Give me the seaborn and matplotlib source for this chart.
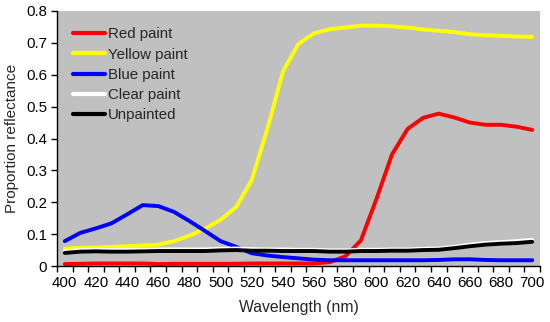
import numpy as np
import pandas as pd
import matplotlib
matplotlib.use("Agg")
import matplotlib.pyplot as plt
import seaborn as sns
from matplotlib.ticker import MultipleLocator, FixedLocator

wavelength = list(range(400, 701, 10))

red_paint = [0.006, 0.007, 0.008, 0.008, 0.008, 0.008, 0.006, 0.007, 0.007, 0.007,
             0.007, 0.007, 0.008, 0.008, 0.008, 0.008, 0.008, 0.012, 0.03, 0.08,
             0.21, 0.35, 0.43, 0.465, 0.478, 0.466, 0.45, 0.443, 0.443, 0.437, 0.427]
yellow_paint = [0.054, 0.057, 0.058, 0.06, 0.062, 0.064, 0.067, 0.078, 0.095, 0.117,
                0.145, 0.185, 0.27, 0.43, 0.61, 0.697, 0.73, 0.743, 0.748, 0.754,
                0.754, 0.752, 0.748, 0.742, 0.738, 0.734, 0.727, 0.724, 0.722, 0.72, 0.719]
blue_paint = [0.078, 0.104, 0.118, 0.134, 0.162, 0.191, 0.188, 0.17, 0.141, 0.11,
              0.078, 0.06, 0.04, 0.033, 0.028, 0.024, 0.02, 0.018, 0.018, 0.018,
              0.018, 0.018, 0.018, 0.018, 0.019, 0.021, 0.021, 0.019, 0.018, 0.018, 0.018]
clear_paint = [0.046, 0.05, 0.051, 0.05, 0.05, 0.051, 0.052, 0.052, 0.052, 0.052,
               0.054, 0.055, 0.053, 0.052, 0.052, 0.051, 0.051, 0.049, 0.049, 0.051,
               0.051, 0.052, 0.052, 0.054, 0.055, 0.06, 0.067, 0.072, 0.075, 0.078, 0.082]
unpainted = [0.041, 0.045, 0.046, 0.045, 0.045, 0.046, 0.047, 0.047, 0.047, 0.047,
             0.049, 0.05, 0.048, 0.048, 0.047, 0.047, 0.047, 0.045, 0.045, 0.047,
             0.047, 0.048, 0.048, 0.05, 0.051, 0.056, 0.062, 0.067, 0.07, 0.072, 0.076]

series_names = ["Red paint", "Yellow paint", "Blue paint", "Clear paint", "Unpainted"]
series_colors = ["#FF0000", "#FFFF00", "#0000FF", "#FFFFFF", "#000000"]
series_values = [red_paint, yellow_paint, blue_paint, clear_paint, unpainted]

df = pd.concat([pd.DataFrame({"Wavelength": wavelength, "Reflectance": v, "Series": n})
                for n, v in zip(series_names, series_values)], ignore_index=True)

sns.set_theme(style="white")
plt.rcParams["font.family"] = ["Liberation Sans", "DejaVu Sans"]

fig = plt.figure(figsize=(5.5, 3.22), dpi=100)
ax = fig.add_axes([57/550, 1-266/322, (540-57)/550, (266-11)/322])
ax.set_facecolor("#C0C0C0")

sns.lineplot(data=df, x="Wavelength", y="Reflectance", hue="Series",
             hue_order=series_names, palette=dict(zip(series_names, series_colors)),
             linewidth=2.8, ax=ax, legend=True)

ax.set_xlim(395, 705)
ax.set_ylim(0, 0.8)
ax.xaxis.set_major_locator(FixedLocator(list(range(400, 701, 20))))
ax.xaxis.set_minor_locator(FixedLocator(list(range(395, 706, 10))))
ax.yaxis.set_major_locator(MultipleLocator(0.1))
ax.yaxis.set_major_formatter(plt.FuncFormatter(lambda v, p: "0" if abs(v) < 1e-9 else f"{v:.1f}"))
ax.tick_params(axis="x", which="major", length=0, labelsize=10.8, pad=7.5, colors="black")
ax.tick_params(axis="x", which="minor", length=4, width=1, direction="out", color="black", bottom=True)
ax.tick_params(axis="y", which="major", length=4, width=1, direction="out", labelsize=10.8,
               pad=3, colors="black", left=True)

for s in ["top", "right"]:
    ax.spines[s].set_visible(False)
for s in ["left", "bottom"]:
    ax.spines[s].set_color("black")
    ax.spines[s].set_linewidth(1)

ax.set_xlabel("Wavelength (nm)", fontsize=11.3, labelpad=7)
ax.set_ylabel("Proportion reflectance", fontsize=11, labelpad=5)

leg = ax.legend(loc="upper left", frameon=False, fontsize=10.8, handlelength=2.15,
                handletextpad=0.2, labelspacing=0.42, borderaxespad=0.0,
                bbox_to_anchor=(0.02, 0.96))
for line in leg.get_lines():
    line.set_linewidth(3)

fig.savefig("out.png", dpi=100)
